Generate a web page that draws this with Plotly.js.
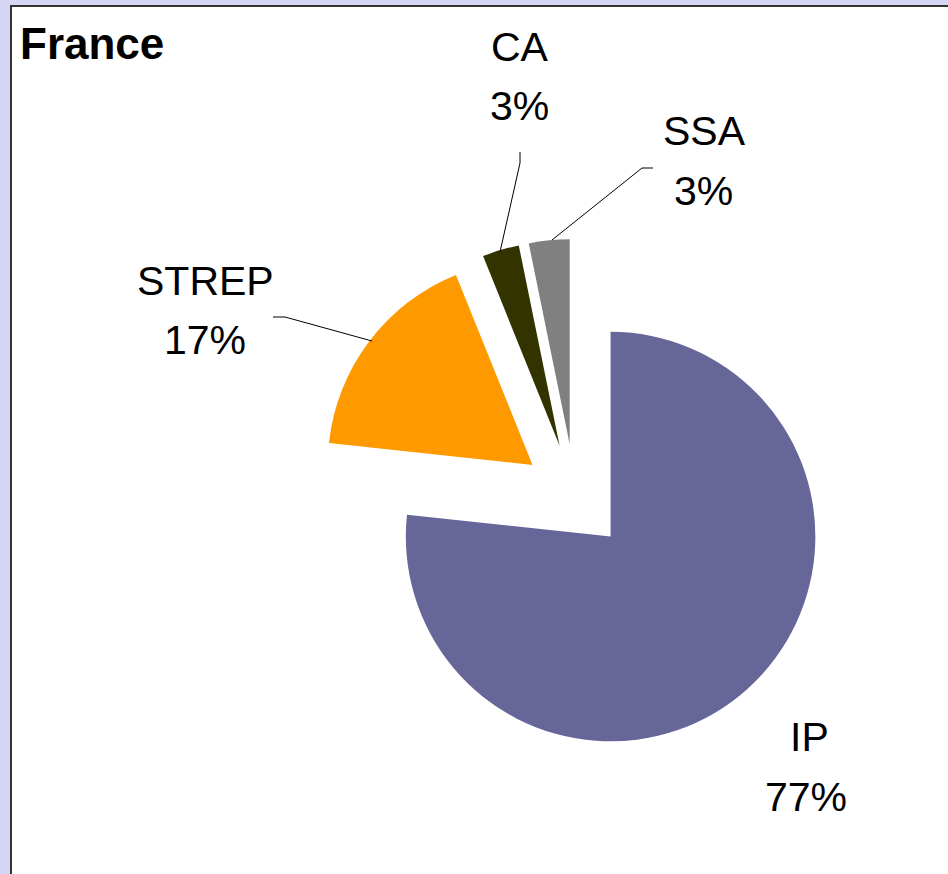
<!DOCTYPE html>
<html>
<head>
<meta charset="utf-8">
<script src="https://cdn.plot.ly/plotly-3.0.1.min.js"></script>
<style>
  html, body { margin: 0; padding: 0; background: #d5d5f5; }
  #chart { width: 948px; height: 874px; }
</style>
</head>
<body>
<div id="chart"></div>
<script>
// France: share of participations by instrument
const labels = ['IP', 'STREP', 'CA', 'SSA'];
const shares = [76.7, 17.2, 2.9, 3.2];
const colors = ['#666699', '#FF9900', '#333300', '#808080'];

const W = 948, H = 874;
const px = x => x / W;
const py = y => 1 - y / H;

// label anchor points (pixel), name line then percent line
const namePos = { IP: [809, 737], STREP: [205, 281], CA: [520, 47], SSA: [704, 131] };
const pctPos = { IP: [806, 797], STREP: [205, 340], CA: [519, 106], SSA: [703, 191] };

// leader lines (pixel polylines)
const leaders = [
  [[520, 152], [520, 163], [500, 252]],
  [[653, 168], [642, 168], [552, 240]],
  [[273, 317], [285, 317], [372, 341]],
];

const total = shares.reduce((a, b) => a + b, 0);
const labelFont = { family: 'Liberation Sans, Arial, sans-serif', size: 41, color: '#000' };

const annotations = [];
labels.forEach((lab, i) => {
  const pct = Math.round(shares[i] / total * 100) + '%';
  annotations.push({
    text: lab, x: px(namePos[lab][0]), y: py(namePos[lab][1]),
    xref: 'paper', yref: 'paper', xanchor: 'center', yanchor: 'middle',
    showarrow: false, font: labelFont,
  });
  annotations.push({
    text: pct, x: px(pctPos[lab][0]), y: py(pctPos[lab][1]),
    xref: 'paper', yref: 'paper', xanchor: 'center', yanchor: 'middle',
    showarrow: false, font: labelFont,
  });
});

const shapes = [
  // chart area frame
  { type: 'rect', xref: 'paper', yref: 'paper', layer: 'below',
    x0: px(11), x1: px(W + 20), y0: py(H + 20), y1: py(6),
    fillcolor: '#ffffff', line: { color: '#333333', width: 2 } },
];
leaders.forEach(pts => {
  const path = pts.map((p, k) => (k ? 'L' : 'M') + px(p[0]) + ',' + py(p[1])).join(' ');
  shapes.push({ type: 'path', xref: 'paper', yref: 'paper', path,
    line: { color: '#000000', width: 1 } });
});

const trace = {
  type: 'pie',
  labels: labels,
  values: shares,
  sort: false,
  direction: 'clockwise',
  rotation: 0,
  pull: labels.map(() => 0.26),
  marker: { colors: colors, line: { width: 0 } },
  textinfo: 'none',
  hoverinfo: 'skip',
  domain: { x: [px(575 - 258), px(575 + 258)], y: [py(497 + 258), py(497 - 258)] },
};

const layout = {
  width: W, height: H,
  margin: { l: 0, r: 0, t: 0, b: 0 },
  paper_bgcolor: '#d5d5f5',
  showlegend: false,
  title: {
    text: '<b>France</b>',
    x: px(20), xanchor: 'left', xref: 'paper',
    y: py(44), yanchor: 'middle', yref: 'container',
    font: { family: 'Liberation Sans, Arial, sans-serif', size: 44, color: '#000' },
  },
  annotations: annotations,
  shapes: shapes,
};

Plotly.newPlot('chart', [trace], layout, { staticPlot: true });
</script>
</body>
</html>
